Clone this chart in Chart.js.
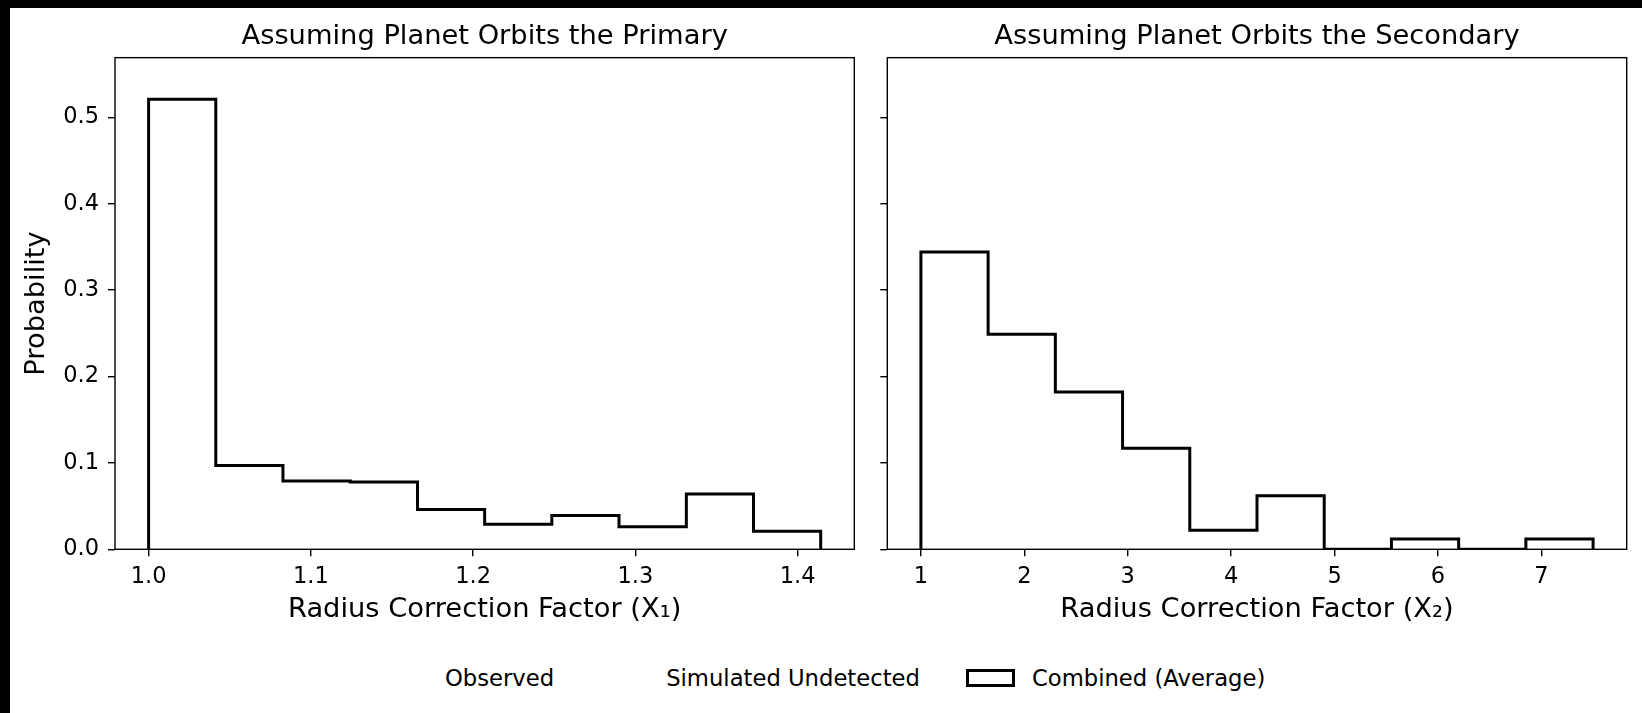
<!DOCTYPE html>
<html>
<head>
<meta charset="utf-8">
<script src="https://cdn.jsdelivr.net/npm/chart.js@4.4.1/dist/chart.umd.min.js"></script>
<style>
  body { margin: 0; background: #000; width: 1642px; height: 713px; overflow: hidden; }
  #page { position: absolute; left: 10px; top: 8px; width: 1632px; height: 705px; background: #fff; }
  .box { position: absolute; top: 0; height: 640px; }
  #legend { position: absolute; left: 369px; top: 656px; height: 27px; display: flex; align-items: center;
            font-family: 'DejaVu Sans', sans-serif; font-size: 22.7px; color: #000; white-space: nowrap; }
  #legend .item { display: flex; align-items: center; margin-right: 46px; }
  #legend .swatch { width: 49px; height: 18px; box-sizing: border-box; border: 3px solid transparent; margin-right: 17px; }
</style>
</head>
<body>
<div id="page">
  <div class="box" style="left:0;width:860px"><canvas id="primary"></canvas></div>
  <div class="box" style="left:860px;width:772px"><canvas id="secondary"></canvas></div>
  <div id="legend"></div>
</div>
<script>
// bin edges and probabilities
const binEdgesPrimary = [1.0, 1.0414, 1.0828, 1.1243, 1.1657, 1.2071, 1.2485, 1.2899, 1.3314, 1.3728, 1.4142];
const probPrimary = [0.521, 0.097, 0.079, 0.078, 0.046, 0.029, 0.039, 0.026, 0.064, 0.021];
const binEdgesSecondary = [1.0, 1.65, 2.3, 2.95, 3.6, 4.25, 4.9, 5.55, 6.2, 6.85, 7.5];
const probSecondary = [0.344, 0.249, 0.182, 0.117, 0.022, 0.062, 0.0, 0.012, 0.0, 0.012];

const xTicksPrimary = [1.0, 1.1, 1.2, 1.3, 1.4];
const xTicksSecondary = [1, 2, 3, 4, 5, 6, 7];
const yTicks = [0.0, 0.1, 0.2, 0.3, 0.4, 0.5];
const yMax = 0.569;

const titlePrimary = 'Assuming Planet Orbits the Primary';
const titleSecondary = 'Assuming Planet Orbits the Secondary';
const xLabelPrimary = 'Radius Correction Factor (X\u2081)';
const xLabelSecondary = 'Radius Correction Factor (X\u2082)';
const yLabel = 'Probability';
const legendLabels = ['Observed', 'Simulated Undetected', 'Combined (Average)'];

Chart.defaults.font.family = "'DejaVu Sans', sans-serif";
Chart.defaults.color = '#000';

// step outline of a histogram, like histtype='step'
function outline(edges, probs) {
    const pts = [{ x: edges[0], y: 0 }];
    probs.forEach((p, i) => pts.push({ x: edges[i], y: p }));
    pts.push({ x: edges[edges.length - 1], y: 0 });
    return pts;
}

const frame = {
    id: 'frame',
    afterDraw(chart) {
        const { ctx, chartArea: a } = chart;
        ctx.save();
        ctx.strokeStyle = '#000';
        ctx.lineWidth = 1.4;
        ctx.strokeRect(a.left, a.top, a.right - a.left, a.bottom - a.top);
        ctx.restore();
    },
};

function histChart(id, edges, probs, xTicks, xDecimals, title, xLabel, yWidth, padRight, showY) {
    const pad = 0.05 * (edges[edges.length - 1] - edges[0]);
    const tickGrid = { drawOnChartArea: false, drawTicks: true, tickLength: 7, color: '#000', lineWidth: 1.4 };
    return new Chart(document.getElementById(id), {
        type: 'line',
        data: {
            datasets: [{
                label: legendLabels[2],
                data: outline(edges, probs),
                stepped: 'before',
                borderColor: '#000',
                borderWidth: 3,
                borderJoinStyle: 'miter',
                pointRadius: 0,
                fill: false,
            }],
        },
        options: {
            responsive: true,
            maintainAspectRatio: false,
            animation: false,
            events: [],
            layout: { padding: { left: 0, right: padRight, top: 0, bottom: 0 } },
            plugins: {
                legend: { display: false },
                tooltip: { enabled: false },
                title: {
                    display: true,
                    text: title,
                    fullSize: false,
                    font: { size: 27.3, weight: 'normal', lineHeight: 1.2 },
                    padding: { top: 12.4, bottom: 4.5 },
                },
            },
            scales: {
                x: {
                    type: 'linear',
                    min: edges[0] - pad,
                    max: edges[edges.length - 1] + pad,
                    afterBuildTicks: s => { s.ticks = xTicks.map(v => ({ value: v })); },
                    afterFit: s => { s.height = 98.7; },
                    grid: tickGrid,
                    border: { display: false },
                    ticks: {
                        padding: 7,
                        maxRotation: 0,
                        autoSkip: false,
                        font: { size: 22.5 },
                        callback: v => v.toFixed(xDecimals),
                    },
                    title: {
                        display: true,
                        text: xLabel,
                        font: { size: 27.3, lineHeight: 1.2 },
                        padding: { top: 0, bottom: 22.2 },
                    },
                },
                y: {
                    min: 0,
                    max: yMax,
                    afterBuildTicks: s => { s.ticks = yTicks.map(v => ({ value: v })); },
                    afterFit: s => { s.width = yWidth; },
                    grid: tickGrid,
                    border: { display: false },
                    ticks: {
                        display: showY,
                        padding: 9,
                        font: { size: 22.5 },
                        callback: v => v.toFixed(1),
                    },
                    title: {
                        display: showY,
                        text: yLabel,
                        font: { size: 27.3, lineHeight: 1.2 },
                        padding: { top: 10.5, bottom: 0 },
                    },
                },
            },
        },
        plugins: [frame],
    });
}

histChart('primary', binEdgesPrimary, probPrimary, xTicksPrimary, 1, titlePrimary, xLabelPrimary, 105, 15.7, true);
histChart('secondary', binEdgesSecondary, probSecondary, xTicksSecondary, 0, titleSecondary, xLabelSecondary, 17.3, 15.3, false);

// shared legend under both panels; only the combined histogram has a visible handle
const legend = document.getElementById('legend');
legendLabels.forEach((label, i) => {
    const item = document.createElement('div');
    item.className = 'item';
    const sw = document.createElement('div');
    sw.className = 'swatch';
    if (i === 2) sw.style.borderColor = '#000';
    const txt = document.createElement('span');
    txt.textContent = label;
    item.appendChild(sw);
    item.appendChild(txt);
    legend.appendChild(item);
});
</script>
</body>
</html>
